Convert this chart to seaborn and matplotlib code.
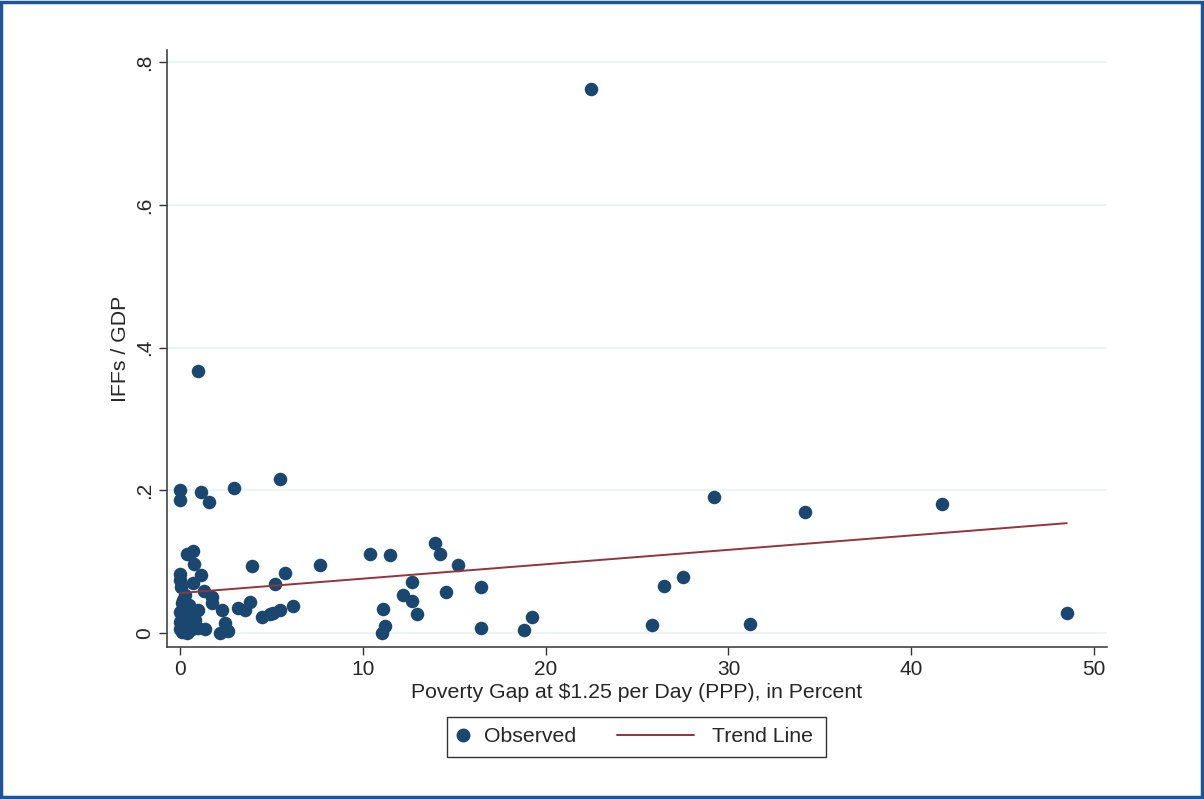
"""
IFFs / GDP vs poverty gap - scatter with trend line (Stata-like look)
"""
import numpy as np
import pandas as pd
import matplotlib
matplotlib.use('Agg')
import matplotlib.pyplot as plt
import seaborn as sns
from matplotlib.lines import Line2D
from matplotlib.patches import Rectangle

# ============================================================================
# DATA
# ============================================================================
poverty_gap = [
    22.5, 0.98, 0.0, 0.0, 1.15, 1.6, 2.95, 5.47,
    29.2, 34.2, 41.7, 48.5, 31.2, 25.8, 26.5, 27.5,
    10.4, 11.5, 13.95, 14.2, 15.2, 12.7, 12.2, 12.7, 12.97, 11.1, 11.2, 11.05,
    14.55, 16.45, 16.45, 18.8, 19.25,
    0.38, 0.7, 0.77, 0.0, 0.0, 0.05, 0.71, 1.15, 1.3, 1.75, 1.75,
    3.94, 7.66, 5.74, 5.2, 3.83, 3.17, 3.55, 6.18, 5.47, 5.1, 4.5, 4.9,
    2.3, 2.46, 2.6, 2.2, 1.37, 1.0, 0.82, 1.0, 0.5,
    0.1, 0.27, 0.0, 0.1, 0.0, 0.27, 0.1, 0.44, 0.55, 0.66, 0.38, 0.16,
    0.2, 0.6, 0.3, 0.0, 0.45,
]
iffs_gdp = [
    0.762, 0.367, 0.200, 0.187, 0.197, 0.184, 0.203, 0.216,
    0.191, 0.170, 0.181, 0.028, 0.013, 0.011, 0.066, 0.078,
    0.111, 0.109, 0.126, 0.111, 0.096, 0.071, 0.053, 0.045, 0.027, 0.034, 0.010, 0.000,
    0.057, 0.064, 0.007, 0.004, 0.022,
    0.111, 0.115, 0.097, 0.083, 0.074, 0.065, 0.070, 0.082, 0.059, 0.051, 0.042,
    0.094, 0.095, 0.084, 0.069, 0.043, 0.035, 0.032, 0.038, 0.032, 0.028, 0.023, 0.026,
    0.032, 0.014, 0.003, 0.000, 0.006, 0.007, 0.018, 0.032, 0.039,
    0.042, 0.053, 0.029, 0.022, 0.015, 0.008, 0.001, 0.018, 0.029, 0.005, 0.000, 0.046,
    0.035, 0.025, 0.012, 0.005, 0.002,
]

# fitted trend (intercept / slope)
trend_intercept = 0.056
trend_slope = 0.00202
trend_x = [0.0, 48.5]

x_ticks = [0, 10, 20, 30, 40, 50]
y_ticks = [0, 0.2, 0.4, 0.6, 0.8]
y_tick_labels = ['0', '.2', '.4', '.6', '.8']

df = pd.DataFrame({'gap': poverty_gap, 'iffs': iffs_gdp})
trend = pd.DataFrame({'gap': trend_x,
                      'iffs': [trend_intercept + trend_slope * x for x in trend_x]})

# ============================================================================
# STYLE
# ============================================================================
sns.set_style('white')
plt.rcParams['font.family'] = ['Liberation Sans', 'DejaVu Sans']

navy = '#1a476f'
maroon = '#90353b'
W, H = 1204, 799

fig = plt.figure(figsize=(W / 100, H / 100), dpi=100)
ax = fig.add_axes([0.1387, 0.1902, 0.7807, 0.7472])

# ============================================================================
# PLOT
# ============================================================================
sns.scatterplot(data=df, x='gap', y='iffs', ax=ax, color=navy, s=95,
                edgecolor=navy, linewidth=0, zorder=3, legend=False)
sns.lineplot(data=trend, x='gap', y='iffs', ax=ax, color=maroon,
             linewidth=1.4, zorder=4, legend=False)

ax.set_xlim(-0.71, 50.7)
ax.set_ylim(-0.0196, 0.817)
ax.set_xticks(x_ticks)
ax.set_yticks(y_ticks)
ax.set_yticklabels(y_tick_labels, rotation=90, va='center')
ax.tick_params(axis='both', direction='out', length=6, width=1, color='#333333',
               labelsize=15, pad=3, bottom=True, left=True)

ax.grid(axis='y', color='#eaf2f3', linewidth=1.2, zorder=0)
ax.grid(axis='x', visible=False)
for side in ['top', 'right']:
    ax.spines[side].set_visible(False)
for side in ['left', 'bottom']:
    ax.spines[side].set_color('#444444')
    ax.spines[side].set_linewidth(1.2)

ax.set_xlabel('Poverty Gap at $1.25 per Day (PPP), in Percent', fontsize=15.3, labelpad=3)
ax.set_ylabel('IFFs / GDP', fontsize=15.3, labelpad=4)

# legend: two keys of different widths, one shared frame
leg_y = 1 - 737 / H
leg1 = fig.legend([Line2D([], [], marker='o', linestyle='none', color=navy, markersize=9)],
                  ['Observed'], loc='center left', bbox_to_anchor=(452 / W, leg_y),
                  frameon=False, fontsize=15.3, handlelength=1.0, handletextpad=0.5,
                  borderpad=0, borderaxespad=0)
leg2 = fig.legend([Line2D([], [], color=maroon, linewidth=1.4)],
                  ['Trend Line'], loc='center left', bbox_to_anchor=(617 / W, leg_y),
                  frameon=False, fontsize=15.3, handlelength=3.6, handletextpad=0.85,
                  borderpad=0, borderaxespad=0)
fig.patches.append(Rectangle((447 / W, 1 - 757 / H), (826 - 447) / W, 40 / H,
                             transform=fig.transFigure, fill=False,
                             edgecolor='#333333', linewidth=1.0))

# outer frame
fig.patches.append(Rectangle((0.001, 0.002), 0.997, 0.996, transform=fig.transFigure,
                             fill=False, edgecolor='#1f5497', linewidth=2.5))

fig.savefig('out.png', dpi=100, facecolor='white')
